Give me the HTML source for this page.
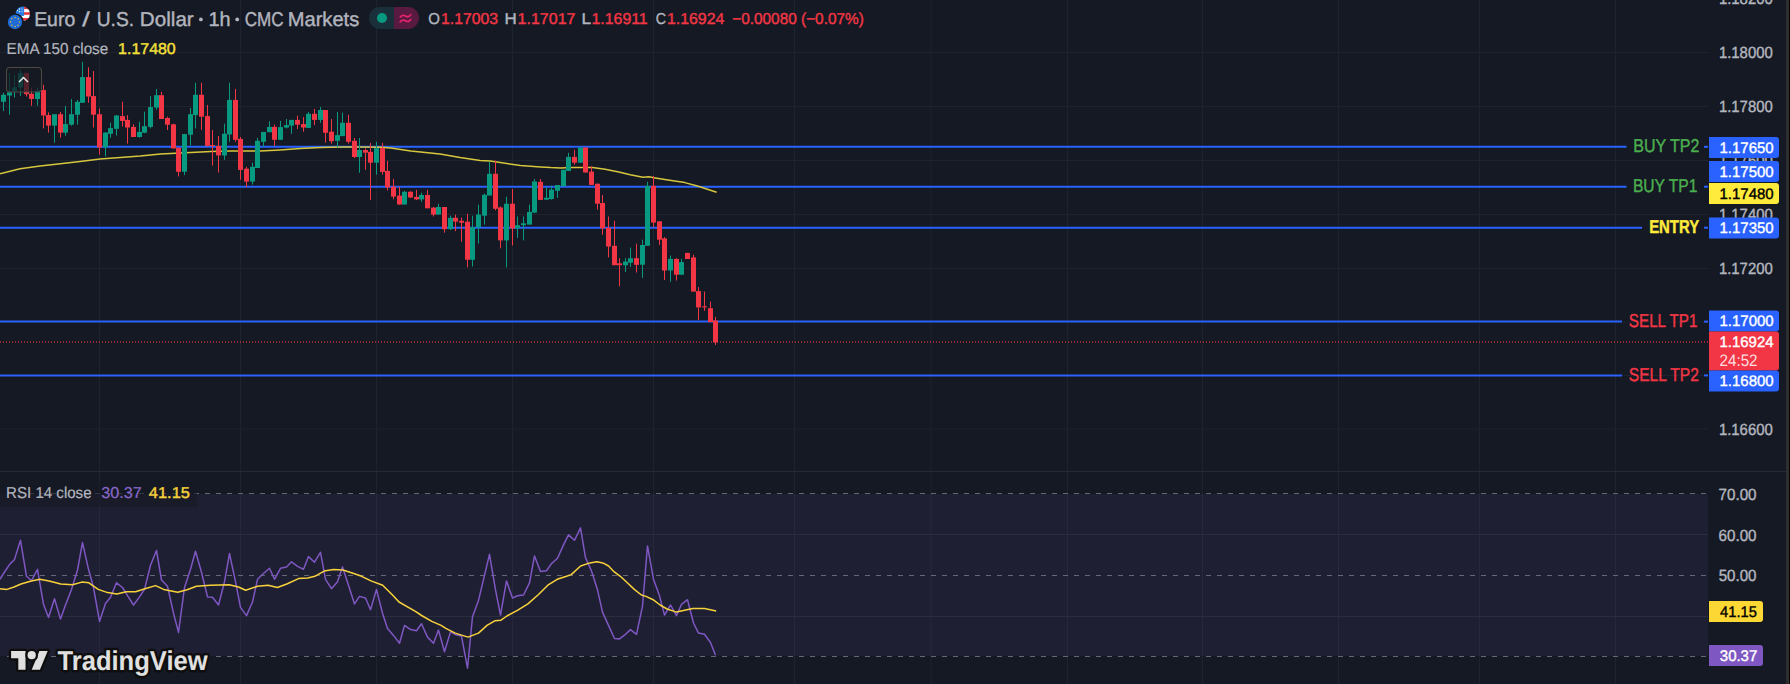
<!DOCTYPE html>
<html><head><meta charset="utf-8"><style>
html,body{margin:0;padding:0;background:#151923;width:1790px;height:684px;overflow:hidden}
svg{display:block;font-family:"Liberation Sans", sans-serif;text-rendering:geometricPrecision}
</style></head><body>
<svg width="1790" height="684" viewBox="0 0 1790 684">
<rect width="1790" height="684" fill="#151923"/>
<line x1="99.50" y1="0" x2="99.50" y2="684" stroke="#1f232e" stroke-width="1"/>
<line x1="240.50" y1="0" x2="240.50" y2="684" stroke="#1f232e" stroke-width="1"/>
<line x1="376.50" y1="0" x2="376.50" y2="684" stroke="#1f232e" stroke-width="1"/>
<line x1="512.50" y1="0" x2="512.50" y2="684" stroke="#1f232e" stroke-width="1"/>
<line x1="653.50" y1="0" x2="653.50" y2="684" stroke="#1f232e" stroke-width="1"/>
<line x1="794.50" y1="0" x2="794.50" y2="684" stroke="#1f232e" stroke-width="1"/>
<line x1="931.00" y1="0" x2="931.00" y2="684" stroke="#1f232e" stroke-width="1"/>
<line x1="1067.50" y1="0" x2="1067.50" y2="684" stroke="#1f232e" stroke-width="1"/>
<line x1="1202.50" y1="0" x2="1202.50" y2="684" stroke="#1f232e" stroke-width="1"/>
<line x1="1338.50" y1="0" x2="1338.50" y2="684" stroke="#1f232e" stroke-width="1"/>
<line x1="1479.50" y1="0" x2="1479.50" y2="684" stroke="#1f232e" stroke-width="1"/>
<line x1="1615.50" y1="0" x2="1615.50" y2="684" stroke="#1f232e" stroke-width="1"/>
<line x1="0" y1="-1.5" x2="1708" y2="-1.5" stroke="#1f232e" stroke-width="1"/>
<line x1="0" y1="52.5" x2="1708" y2="52.5" stroke="#1f232e" stroke-width="1"/>
<line x1="0" y1="106.5" x2="1708" y2="106.5" stroke="#1f232e" stroke-width="1"/>
<line x1="0" y1="160.5" x2="1708" y2="160.5" stroke="#1f232e" stroke-width="1"/>
<line x1="0" y1="214.5" x2="1708" y2="214.5" stroke="#1f232e" stroke-width="1"/>
<line x1="0" y1="268.5" x2="1708" y2="268.5" stroke="#1f232e" stroke-width="1"/>
<line x1="0" y1="322.0" x2="1708" y2="322.0" stroke="#1f232e" stroke-width="1"/>
<line x1="0" y1="375.5" x2="1708" y2="375.5" stroke="#1f232e" stroke-width="1"/>
<line x1="0" y1="429.0" x2="1708" y2="429.0" stroke="#1f232e" stroke-width="1"/>
<rect x="0" y="494" width="1708" height="162" fill="#7e57c2" fill-opacity="0.1"/>
<line x1="0" y1="534.5" x2="1708" y2="534.5" stroke="#2a2d3d" stroke-width="1"/>
<line x1="0" y1="616.5" x2="1708" y2="616.5" stroke="#2a2d3d" stroke-width="1"/>
<line x1="7" y1="493.5" x2="1708" y2="493.5" stroke="#787b86" stroke-width="1" stroke-dasharray="5 6" stroke-opacity="0.8"/>
<line x1="7" y1="575.5" x2="1708" y2="575.5" stroke="#787b86" stroke-width="1" stroke-dasharray="5 6" stroke-opacity="0.8"/>
<line x1="7" y1="656.5" x2="1708" y2="656.5" stroke="#787b86" stroke-width="1" stroke-dasharray="5 6" stroke-opacity="0.8"/>
<line x1="0" y1="471.5" x2="1786" y2="471.5" stroke="#262a35" stroke-width="1"/>
<line x1="0" y1="146.8" x2="1626.5" y2="146.8" stroke="#2962ff" stroke-width="2"/>
<line x1="1704" y1="146.8" x2="1708" y2="146.8" stroke="#2962ff" stroke-width="2"/>
<text x="1633.22" y="151.90" font-size="18.55" font-weight="normal" fill="#4caf50" textLength="66.21" lengthAdjust="spacingAndGlyphs" xml:space="preserve" stroke="#4caf50" stroke-width="0.4">BUY TP2</text>
<line x1="0" y1="186.7" x2="1626.5" y2="186.7" stroke="#2962ff" stroke-width="2"/>
<line x1="1704" y1="186.7" x2="1708" y2="186.7" stroke="#2962ff" stroke-width="2"/>
<text x="1632.95" y="191.90" font-size="18.55" font-weight="normal" fill="#4caf50" textLength="64.46" lengthAdjust="spacingAndGlyphs" xml:space="preserve" stroke="#4caf50" stroke-width="0.4">BUY TP1</text>
<line x1="0" y1="227.7" x2="1642" y2="227.7" stroke="#2962ff" stroke-width="2"/>
<line x1="1704" y1="227.7" x2="1708" y2="227.7" stroke="#2962ff" stroke-width="2"/>
<text x="1649.16" y="232.80" font-size="18.55" font-weight="bold" fill="#ffeb3b" textLength="49.97" lengthAdjust="spacingAndGlyphs" xml:space="preserve" stroke="#ffeb3b" stroke-width="0.4">ENTRY</text>
<line x1="0" y1="321.6" x2="1622" y2="321.6" stroke="#2962ff" stroke-width="2"/>
<line x1="1704" y1="321.6" x2="1708" y2="321.6" stroke="#2962ff" stroke-width="2"/>
<text x="1628.84" y="327.00" font-size="18.55" font-weight="normal" fill="#f23645" textLength="68.57" lengthAdjust="spacingAndGlyphs" xml:space="preserve" stroke="#f23645" stroke-width="0.4">SELL TP1</text>
<line x1="0" y1="375.4" x2="1622" y2="375.4" stroke="#2962ff" stroke-width="2"/>
<line x1="1704" y1="375.4" x2="1708" y2="375.4" stroke="#2962ff" stroke-width="2"/>
<text x="1628.82" y="380.80" font-size="18.55" font-weight="normal" fill="#f23645" textLength="70.10" lengthAdjust="spacingAndGlyphs" xml:space="preserve" stroke="#f23645" stroke-width="0.4">SELL TP2</text>
<polyline points="0.0,173.8 20.1,168.8 40.2,165.9 60.3,163.7 80.0,161.4 100.1,158.9 120.2,157.6 140.3,156.1 160.5,154.1 175.5,153.3 190.6,152.6 210.7,151.6 230.8,150.9 251.0,150.9 260.0,151.0 280.1,149.9 300.2,148.6 320.3,147.6 340.5,146.9 360.6,147.1 380.7,147.3 390.7,148.1 410.8,151.1 440.0,154.1 460.1,157.6 480.2,160.6 490.3,161.1 500.3,162.6 520.5,165.6 530.5,166.3 540.6,166.9 550.6,167.6 560.7,167.9 570.7,167.6 580.8,167.4 592.6,167.4 605.1,169.2 617.7,171.7 630.3,174.7 642.9,177.2 648.7,176.8 655.4,178.0 668.0,180.1 684.8,182.6 697.4,186.0 716.6,192.3" fill="none" stroke="#d6c63e" stroke-width="1.5" stroke-linejoin="round"/>
<rect x="3" y="92.7" width="1" height="18.3" fill="#089981"/>
<rect x="1" y="94.8" width="5" height="7.0" fill="#089981"/>
<rect x="9" y="72.9" width="1" height="41.8" fill="#089981"/>
<rect x="7" y="92.3" width="5" height="3.2" fill="#089981"/>
<rect x="14" y="74.8" width="1" height="22.8" fill="#089981"/>
<rect x="12" y="87.2" width="5" height="4.2" fill="#089981"/>
<rect x="20" y="69.9" width="1" height="25.9" fill="#089981"/>
<rect x="18" y="72.9" width="5" height="14.6" fill="#089981"/>
<rect x="26" y="72.9" width="1" height="23.6" fill="#f23645"/>
<rect x="24" y="72.9" width="5" height="21.3" fill="#f23645"/>
<rect x="31" y="87.6" width="1" height="18.1" fill="#f23645"/>
<rect x="29" y="93.8" width="5" height="5.1" fill="#f23645"/>
<rect x="37" y="87.2" width="1" height="18.4" fill="#089981"/>
<rect x="35" y="90.4" width="5" height="8.6" fill="#089981"/>
<rect x="43" y="84.7" width="1" height="43.7" fill="#f23645"/>
<rect x="41" y="90.0" width="5" height="25.5" fill="#f23645"/>
<rect x="48" y="112.3" width="1" height="20.3" fill="#f23645"/>
<rect x="46" y="115.1" width="5" height="10.5" fill="#f23645"/>
<rect x="54" y="114.2" width="1" height="28.5" fill="#089981"/>
<rect x="52" y="114.2" width="5" height="11.4" fill="#089981"/>
<rect x="60" y="111.9" width="1" height="25.7" fill="#f23645"/>
<rect x="58" y="114.2" width="5" height="18.4" fill="#f23645"/>
<rect x="65" y="106.0" width="1" height="29.7" fill="#089981"/>
<rect x="63" y="124.1" width="5" height="8.6" fill="#089981"/>
<rect x="71" y="99.0" width="1" height="26.6" fill="#089981"/>
<rect x="69" y="114.2" width="5" height="10.5" fill="#089981"/>
<rect x="77" y="99.9" width="1" height="24.7" fill="#089981"/>
<rect x="75" y="101.8" width="5" height="12.9" fill="#089981"/>
<rect x="82" y="61.9" width="1" height="40.9" fill="#089981"/>
<rect x="80" y="77.1" width="5" height="25.7" fill="#089981"/>
<rect x="88" y="67.2" width="1" height="35.6" fill="#f23645"/>
<rect x="86" y="77.1" width="5" height="19.4" fill="#f23645"/>
<rect x="93" y="71.0" width="1" height="56.5" fill="#f23645"/>
<rect x="91" y="96.1" width="5" height="18.6" fill="#f23645"/>
<rect x="99" y="108.5" width="1" height="46.0" fill="#f23645"/>
<rect x="97" y="114.2" width="5" height="33.3" fill="#f23645"/>
<rect x="105" y="132.2" width="1" height="24.3" fill="#089981"/>
<rect x="103" y="132.6" width="5" height="14.8" fill="#089981"/>
<rect x="110" y="122.7" width="1" height="15.2" fill="#089981"/>
<rect x="108" y="128.1" width="5" height="5.7" fill="#089981"/>
<rect x="116" y="115.1" width="1" height="20.5" fill="#089981"/>
<rect x="114" y="115.5" width="5" height="13.3" fill="#089981"/>
<rect x="122" y="101.8" width="1" height="24.7" fill="#f23645"/>
<rect x="120" y="116.1" width="5" height="4.8" fill="#f23645"/>
<rect x="127" y="115.1" width="1" height="28.5" fill="#f23645"/>
<rect x="125" y="119.9" width="5" height="7.6" fill="#f23645"/>
<rect x="133" y="124.3" width="1" height="12.7" fill="#f23645"/>
<rect x="131" y="126.9" width="5" height="10.1" fill="#f23645"/>
<rect x="139" y="121.8" width="1" height="15.8" fill="#089981"/>
<rect x="137" y="131.9" width="5" height="5.1" fill="#089981"/>
<rect x="144" y="111.7" width="1" height="21.5" fill="#089981"/>
<rect x="142" y="126.2" width="5" height="6.5" fill="#089981"/>
<rect x="150" y="96.1" width="1" height="32.3" fill="#089981"/>
<rect x="148" y="107.1" width="5" height="19.8" fill="#089981"/>
<rect x="156" y="88.9" width="1" height="20.9" fill="#089981"/>
<rect x="154" y="95.2" width="5" height="12.4" fill="#089981"/>
<rect x="161" y="91.9" width="1" height="27.0" fill="#f23645"/>
<rect x="159" y="95.2" width="5" height="23.8" fill="#f23645"/>
<rect x="167" y="116.7" width="1" height="13.3" fill="#f23645"/>
<rect x="165" y="118.0" width="5" height="6.7" fill="#f23645"/>
<rect x="173" y="123.7" width="1" height="24.7" fill="#f23645"/>
<rect x="171" y="124.3" width="5" height="24.1" fill="#f23645"/>
<rect x="178" y="147.5" width="1" height="28.9" fill="#f23645"/>
<rect x="176" y="147.8" width="5" height="24.0" fill="#f23645"/>
<rect x="184" y="133.8" width="1" height="41.3" fill="#089981"/>
<rect x="182" y="134.1" width="5" height="37.6" fill="#089981"/>
<rect x="190" y="107.9" width="1" height="37.6" fill="#089981"/>
<rect x="188" y="114.2" width="5" height="20.5" fill="#089981"/>
<rect x="195" y="82.8" width="1" height="45.6" fill="#089981"/>
<rect x="193" y="94.8" width="5" height="20.3" fill="#089981"/>
<rect x="201" y="82.8" width="1" height="47.1" fill="#f23645"/>
<rect x="199" y="94.8" width="5" height="21.9" fill="#f23645"/>
<rect x="207" y="105.1" width="1" height="41.4" fill="#f23645"/>
<rect x="205" y="116.1" width="5" height="29.8" fill="#f23645"/>
<rect x="212" y="130.0" width="1" height="35.6" fill="#f23645"/>
<rect x="210" y="145.0" width="5" height="1.0" fill="#f23645"/>
<rect x="218" y="136.0" width="1" height="36.5" fill="#f23645"/>
<rect x="216" y="145.9" width="5" height="9.5" fill="#f23645"/>
<rect x="224" y="123.7" width="1" height="36.1" fill="#089981"/>
<rect x="222" y="133.8" width="5" height="21.7" fill="#089981"/>
<rect x="229" y="82.8" width="1" height="58.9" fill="#089981"/>
<rect x="227" y="99.9" width="5" height="34.6" fill="#089981"/>
<rect x="235" y="88.9" width="1" height="52.9" fill="#f23645"/>
<rect x="233" y="99.9" width="5" height="39.9" fill="#f23645"/>
<rect x="240" y="137.0" width="1" height="42.8" fill="#f23645"/>
<rect x="238" y="138.9" width="5" height="31.0" fill="#f23645"/>
<rect x="246" y="166.8" width="1" height="20.5" fill="#f23645"/>
<rect x="244" y="168.7" width="5" height="12.9" fill="#f23645"/>
<rect x="252" y="162.7" width="1" height="21.9" fill="#089981"/>
<rect x="250" y="166.8" width="5" height="14.8" fill="#089981"/>
<rect x="257" y="137.9" width="1" height="30.0" fill="#089981"/>
<rect x="255" y="140.8" width="5" height="27.2" fill="#089981"/>
<rect x="263" y="131.9" width="1" height="15.2" fill="#089981"/>
<rect x="261" y="131.9" width="5" height="9.9" fill="#089981"/>
<rect x="269" y="121.2" width="1" height="11.0" fill="#089981"/>
<rect x="267" y="126.9" width="5" height="5.3" fill="#089981"/>
<rect x="274" y="124.6" width="1" height="21.3" fill="#f23645"/>
<rect x="272" y="126.9" width="5" height="12.9" fill="#f23645"/>
<rect x="280" y="120.9" width="1" height="19.0" fill="#089981"/>
<rect x="278" y="127.1" width="5" height="12.7" fill="#089981"/>
<rect x="286" y="119.0" width="1" height="9.5" fill="#089981"/>
<rect x="284" y="125.1" width="5" height="2.5" fill="#089981"/>
<rect x="291" y="119.9" width="1" height="13.9" fill="#089981"/>
<rect x="289" y="119.9" width="5" height="5.7" fill="#089981"/>
<rect x="297" y="115.7" width="1" height="13.3" fill="#f23645"/>
<rect x="295" y="119.9" width="5" height="4.8" fill="#f23645"/>
<rect x="303" y="117.1" width="1" height="14.6" fill="#f23645"/>
<rect x="301" y="124.1" width="5" height="3.4" fill="#f23645"/>
<rect x="308" y="111.9" width="1" height="16.0" fill="#089981"/>
<rect x="306" y="113.8" width="5" height="14.1" fill="#089981"/>
<rect x="314" y="108.9" width="1" height="16.2" fill="#f23645"/>
<rect x="312" y="113.8" width="5" height="6.1" fill="#f23645"/>
<rect x="320" y="107.0" width="1" height="15.8" fill="#089981"/>
<rect x="318" y="110.0" width="5" height="9.9" fill="#089981"/>
<rect x="325" y="110.0" width="1" height="32.7" fill="#f23645"/>
<rect x="323" y="110.0" width="5" height="22.8" fill="#f23645"/>
<rect x="331" y="119.0" width="1" height="24.7" fill="#f23645"/>
<rect x="329" y="131.7" width="5" height="9.5" fill="#f23645"/>
<rect x="337" y="111.9" width="1" height="35.6" fill="#089981"/>
<rect x="335" y="135.1" width="5" height="5.7" fill="#089981"/>
<rect x="342" y="112.7" width="1" height="23.4" fill="#089981"/>
<rect x="340" y="122.8" width="5" height="13.3" fill="#089981"/>
<rect x="348" y="114.8" width="1" height="28.9" fill="#f23645"/>
<rect x="346" y="122.8" width="5" height="19.0" fill="#f23645"/>
<rect x="354" y="138.0" width="1" height="20.0" fill="#f23645"/>
<rect x="352" y="140.8" width="5" height="16.2" fill="#f23645"/>
<rect x="359" y="138.0" width="1" height="34.8" fill="#089981"/>
<rect x="357" y="150.0" width="5" height="7.0" fill="#089981"/>
<rect x="365" y="148.4" width="1" height="21.3" fill="#f23645"/>
<rect x="363" y="150.0" width="5" height="2.7" fill="#f23645"/>
<rect x="370" y="142.9" width="1" height="57.0" fill="#f23645"/>
<rect x="368" y="151.9" width="5" height="10.8" fill="#f23645"/>
<rect x="376" y="141.8" width="1" height="32.9" fill="#089981"/>
<rect x="374" y="148.1" width="5" height="14.6" fill="#089981"/>
<rect x="382" y="142.9" width="1" height="31.7" fill="#f23645"/>
<rect x="380" y="148.1" width="5" height="23.8" fill="#f23645"/>
<rect x="387" y="160.8" width="1" height="29.7" fill="#f23645"/>
<rect x="385" y="170.9" width="5" height="16.5" fill="#f23645"/>
<rect x="393" y="179.0" width="1" height="20.3" fill="#f23645"/>
<rect x="391" y="186.7" width="5" height="9.9" fill="#f23645"/>
<rect x="399" y="186.7" width="1" height="17.9" fill="#f23645"/>
<rect x="397" y="195.6" width="5" height="8.9" fill="#f23645"/>
<rect x="404" y="190.8" width="1" height="13.7" fill="#089981"/>
<rect x="402" y="191.8" width="5" height="12.7" fill="#089981"/>
<rect x="410" y="191.2" width="1" height="6.8" fill="#f23645"/>
<rect x="408" y="191.8" width="5" height="5.7" fill="#f23645"/>
<rect x="416" y="189.9" width="1" height="10.1" fill="#f23645"/>
<rect x="414" y="196.9" width="5" height="2.5" fill="#f23645"/>
<rect x="421" y="192.7" width="1" height="9.1" fill="#089981"/>
<rect x="419" y="195.0" width="5" height="4.4" fill="#089981"/>
<rect x="427" y="189.9" width="1" height="18.4" fill="#f23645"/>
<rect x="425" y="195.0" width="5" height="13.3" fill="#f23645"/>
<rect x="433" y="207.0" width="1" height="9.5" fill="#f23645"/>
<rect x="431" y="207.6" width="5" height="7.0" fill="#f23645"/>
<rect x="438" y="203.8" width="1" height="10.8" fill="#089981"/>
<rect x="436" y="207.0" width="5" height="7.6" fill="#089981"/>
<rect x="444" y="207.0" width="1" height="25.7" fill="#f23645"/>
<rect x="442" y="207.0" width="5" height="22.2" fill="#f23645"/>
<rect x="450" y="215.6" width="1" height="14.3" fill="#089981"/>
<rect x="448" y="217.8" width="5" height="11.4" fill="#089981"/>
<rect x="455" y="214.6" width="1" height="16.5" fill="#f23645"/>
<rect x="453" y="217.8" width="5" height="3.8" fill="#f23645"/>
<rect x="461" y="217.6" width="1" height="24.1" fill="#f23645"/>
<rect x="459" y="220.8" width="5" height="1.9" fill="#f23645"/>
<rect x="467" y="213.8" width="1" height="53.6" fill="#f23645"/>
<rect x="465" y="221.7" width="5" height="38.0" fill="#f23645"/>
<rect x="472" y="215.7" width="1" height="50.8" fill="#089981"/>
<rect x="470" y="227.1" width="5" height="32.7" fill="#089981"/>
<rect x="478" y="204.6" width="1" height="39.0" fill="#089981"/>
<rect x="476" y="214.5" width="5" height="12.9" fill="#089981"/>
<rect x="484" y="193.6" width="1" height="31.0" fill="#089981"/>
<rect x="482" y="194.8" width="5" height="20.9" fill="#089981"/>
<rect x="489" y="161.9" width="1" height="33.7" fill="#089981"/>
<rect x="487" y="173.8" width="5" height="21.7" fill="#089981"/>
<rect x="495" y="160.5" width="1" height="49.8" fill="#f23645"/>
<rect x="493" y="173.8" width="5" height="35.0" fill="#f23645"/>
<rect x="500" y="206.5" width="1" height="41.8" fill="#f23645"/>
<rect x="498" y="207.5" width="5" height="32.9" fill="#f23645"/>
<rect x="506" y="196.7" width="1" height="70.7" fill="#089981"/>
<rect x="504" y="203.7" width="5" height="36.7" fill="#089981"/>
<rect x="512" y="189.0" width="1" height="56.5" fill="#f23645"/>
<rect x="510" y="203.7" width="5" height="24.7" fill="#f23645"/>
<rect x="517" y="216.4" width="1" height="21.5" fill="#089981"/>
<rect x="515" y="225.2" width="5" height="3.2" fill="#089981"/>
<rect x="523" y="216.4" width="1" height="24.0" fill="#089981"/>
<rect x="521" y="223.3" width="5" height="1.9" fill="#089981"/>
<rect x="529" y="204.6" width="1" height="20.0" fill="#089981"/>
<rect x="527" y="211.9" width="5" height="12.7" fill="#089981"/>
<rect x="534" y="179.0" width="1" height="34.2" fill="#089981"/>
<rect x="532" y="181.4" width="5" height="31.2" fill="#089981"/>
<rect x="540" y="179.0" width="1" height="20.9" fill="#f23645"/>
<rect x="538" y="181.8" width="5" height="18.1" fill="#f23645"/>
<rect x="546" y="187.3" width="1" height="12.4" fill="#089981"/>
<rect x="544" y="197.8" width="5" height="1.9" fill="#089981"/>
<rect x="551" y="185.7" width="1" height="14.0" fill="#089981"/>
<rect x="549" y="189.6" width="5" height="9.4" fill="#089981"/>
<rect x="557" y="185.0" width="1" height="12.9" fill="#089981"/>
<rect x="555" y="185.0" width="5" height="5.8" fill="#089981"/>
<rect x="563" y="169.8" width="1" height="16.8" fill="#089981"/>
<rect x="561" y="169.8" width="5" height="16.4" fill="#089981"/>
<rect x="568" y="152.9" width="1" height="18.0" fill="#089981"/>
<rect x="566" y="156.9" width="5" height="14.0" fill="#089981"/>
<rect x="574" y="149.9" width="1" height="14.7" fill="#f23645"/>
<rect x="572" y="156.9" width="5" height="5.8" fill="#f23645"/>
<rect x="580" y="147.5" width="1" height="15.2" fill="#089981"/>
<rect x="578" y="147.5" width="5" height="15.2" fill="#089981"/>
<rect x="585" y="147.5" width="1" height="25.0" fill="#f23645"/>
<rect x="583" y="147.5" width="5" height="25.0" fill="#f23645"/>
<rect x="591" y="166.3" width="1" height="18.7" fill="#f23645"/>
<rect x="589" y="171.6" width="5" height="13.3" fill="#f23645"/>
<rect x="597" y="183.3" width="1" height="26.2" fill="#f23645"/>
<rect x="595" y="183.8" width="5" height="19.9" fill="#f23645"/>
<rect x="602" y="195.0" width="1" height="39.8" fill="#f23645"/>
<rect x="600" y="203.0" width="5" height="25.3" fill="#f23645"/>
<rect x="608" y="216.5" width="1" height="40.9" fill="#f23645"/>
<rect x="606" y="227.8" width="5" height="18.7" fill="#f23645"/>
<rect x="614" y="220.8" width="1" height="44.4" fill="#f23645"/>
<rect x="612" y="245.8" width="5" height="19.4" fill="#f23645"/>
<rect x="619" y="258.2" width="1" height="28.1" fill="#f23645"/>
<rect x="617" y="263.3" width="5" height="1.9" fill="#f23645"/>
<rect x="625" y="258.2" width="1" height="13.9" fill="#089981"/>
<rect x="623" y="261.6" width="5" height="3.7" fill="#089981"/>
<rect x="630" y="247.6" width="1" height="19.2" fill="#089981"/>
<rect x="628" y="258.2" width="5" height="4.5" fill="#089981"/>
<rect x="636" y="243.7" width="1" height="28.9" fill="#f23645"/>
<rect x="634" y="258.2" width="5" height="6.6" fill="#f23645"/>
<rect x="642" y="239.7" width="1" height="38.2" fill="#089981"/>
<rect x="640" y="245.0" width="5" height="19.7" fill="#089981"/>
<rect x="647" y="181.8" width="1" height="63.9" fill="#089981"/>
<rect x="645" y="185.8" width="5" height="60.0" fill="#089981"/>
<rect x="653" y="175.8" width="1" height="51.6" fill="#f23645"/>
<rect x="651" y="185.8" width="5" height="36.8" fill="#f23645"/>
<rect x="659" y="221.3" width="1" height="23.7" fill="#f23645"/>
<rect x="657" y="221.3" width="5" height="18.4" fill="#f23645"/>
<rect x="664" y="237.1" width="1" height="42.9" fill="#f23645"/>
<rect x="662" y="238.4" width="5" height="32.1" fill="#f23645"/>
<rect x="670" y="255.5" width="1" height="26.3" fill="#089981"/>
<rect x="668" y="258.9" width="5" height="11.6" fill="#089981"/>
<rect x="676" y="258.2" width="1" height="22.4" fill="#f23645"/>
<rect x="674" y="258.9" width="5" height="15.8" fill="#f23645"/>
<rect x="681" y="258.9" width="1" height="15.8" fill="#089981"/>
<rect x="679" y="262.1" width="5" height="12.6" fill="#089981"/>
<rect x="687" y="252.9" width="1" height="6.1" fill="#f23645"/>
<rect x="685" y="252.9" width="5" height="6.1" fill="#f23645"/>
<rect x="693" y="254.7" width="1" height="36.8" fill="#f23645"/>
<rect x="691" y="257.4" width="5" height="34.2" fill="#f23645"/>
<rect x="698" y="287.1" width="1" height="32.9" fill="#f23645"/>
<rect x="696" y="291.1" width="5" height="16.3" fill="#f23645"/>
<rect x="704" y="291.6" width="1" height="19.2" fill="#f23645"/>
<rect x="702" y="306.3" width="5" height="1.1" fill="#f23645"/>
<rect x="710" y="301.6" width="1" height="20.5" fill="#f23645"/>
<rect x="708" y="308.2" width="5" height="13.9" fill="#f23645"/>
<rect x="715" y="316.8" width="1" height="28.2" fill="#f23645"/>
<rect x="713" y="320.5" width="5" height="21.8" fill="#f23645"/>
<line x1="0" y1="342" x2="1708" y2="342" stroke="#f23645" stroke-width="2" stroke-dasharray="1 2" opacity="0.6"/>
<text x="1718.91" y="3.60" font-size="16.23" font-weight="normal" fill="#b2b5be" textLength="53.86" lengthAdjust="spacingAndGlyphs" xml:space="preserve" stroke="#b2b5be" stroke-width="0.4">1.18200</text>
<text x="1718.91" y="58.20" font-size="16.23" font-weight="normal" fill="#b2b5be" textLength="53.86" lengthAdjust="spacingAndGlyphs" xml:space="preserve" stroke="#b2b5be" stroke-width="0.4">1.18000</text>
<text x="1718.91" y="112.30" font-size="16.23" font-weight="normal" fill="#b2b5be" textLength="53.86" lengthAdjust="spacingAndGlyphs" xml:space="preserve" stroke="#b2b5be" stroke-width="0.4">1.17800</text>
<text x="1718.91" y="166.30" font-size="16.23" font-weight="normal" fill="#b2b5be" textLength="53.86" lengthAdjust="spacingAndGlyphs" xml:space="preserve" stroke="#b2b5be" stroke-width="0.4">1.17600</text>
<text x="1718.91" y="220.10" font-size="16.23" font-weight="normal" fill="#b2b5be" textLength="53.86" lengthAdjust="spacingAndGlyphs" xml:space="preserve" stroke="#b2b5be" stroke-width="0.4">1.17400</text>
<text x="1718.91" y="274.00" font-size="16.23" font-weight="normal" fill="#b2b5be" textLength="53.86" lengthAdjust="spacingAndGlyphs" xml:space="preserve" stroke="#b2b5be" stroke-width="0.4">1.17200</text>
<text x="1718.91" y="434.80" font-size="16.23" font-weight="normal" fill="#b2b5be" textLength="53.86" lengthAdjust="spacingAndGlyphs" xml:space="preserve" stroke="#b2b5be" stroke-width="0.4">1.16600</text>
<path d="M1709,137 h67 a3,3 0 0 1 3,3 v15 a3,3 0 0 1 -3,3 h-67 z" fill="#2962ff"/>
<text x="1719.50" y="152.80" font-size="15.22" font-weight="normal" fill="#ffffff" textLength="54.17" lengthAdjust="spacingAndGlyphs" xml:space="preserve" stroke="#ffffff" stroke-width="0.4">1.17650</text>
<path d="M1709,161 h67 a3,3 0 0 1 3,3 v15 a3,3 0 0 1 -3,3 h-67 z" fill="#2962ff"/>
<text x="1719.50" y="176.80" font-size="15.22" font-weight="normal" fill="#ffffff" textLength="54.17" lengthAdjust="spacingAndGlyphs" xml:space="preserve" stroke="#ffffff" stroke-width="0.4">1.17500</text>
<path d="M1709,183 h67 a3,3 0 0 1 3,3 v15 a3,3 0 0 1 -3,3 h-67 z" fill="#ffeb3b"/>
<text x="1719.50" y="198.80" font-size="15.22" font-weight="normal" fill="#000000" textLength="54.17" lengthAdjust="spacingAndGlyphs" xml:space="preserve" stroke="#000000" stroke-width="0.4">1.17480</text>
<path d="M1709,217.5 h67 a3,3 0 0 1 3,3 v15 a3,3 0 0 1 -3,3 h-67 z" fill="#2962ff"/>
<text x="1719.50" y="233.30" font-size="15.22" font-weight="normal" fill="#ffffff" textLength="54.17" lengthAdjust="spacingAndGlyphs" xml:space="preserve" stroke="#ffffff" stroke-width="0.4">1.17350</text>
<path d="M1709,310.5 h67 a3,3 0 0 1 3,3 v15 a3,3 0 0 1 -3,3 h-67 z" fill="#2962ff"/>
<text x="1719.50" y="326.30" font-size="15.22" font-weight="normal" fill="#ffffff" textLength="54.17" lengthAdjust="spacingAndGlyphs" xml:space="preserve" stroke="#ffffff" stroke-width="0.4">1.17000</text>
<path d="M1709,331.5 h67 a3,3 0 0 1 3,3 v33 a3,3 0 0 1 -3,3 h-67 z" fill="#f23645"/>
<text x="1719.50" y="347.30" font-size="15.22" font-weight="normal" fill="#ffffff" textLength="54.02" lengthAdjust="spacingAndGlyphs" xml:space="preserve" stroke="#ffffff" stroke-width="0.4">1.16924</text>
<path d="M1709,370.5 h67 a3,3 0 0 1 3,3 v15 a3,3 0 0 1 -3,3 h-67 z" fill="#2962ff"/>
<text x="1719.50" y="386.30" font-size="15.22" font-weight="normal" fill="#ffffff" textLength="54.17" lengthAdjust="spacingAndGlyphs" xml:space="preserve" stroke="#ffffff" stroke-width="0.4">1.16800</text>
<text x="1719.44" y="365.60" font-size="16.67" font-weight="normal" fill="#ffffff" textLength="38.16" lengthAdjust="spacingAndGlyphs" xml:space="preserve" fill-opacity="0.85">24:52</text>
<text x="1718.54" y="499.50" font-size="16.23" font-weight="normal" fill="#b2b5be" textLength="38.00" lengthAdjust="spacingAndGlyphs" xml:space="preserve" stroke="#b2b5be" stroke-width="0.4">70.00</text>
<text x="1718.54" y="540.50" font-size="16.23" font-weight="normal" fill="#b2b5be" textLength="38.00" lengthAdjust="spacingAndGlyphs" xml:space="preserve" stroke="#b2b5be" stroke-width="0.4">60.00</text>
<text x="1718.70" y="581.20" font-size="16.23" font-weight="normal" fill="#b2b5be" textLength="37.85" lengthAdjust="spacingAndGlyphs" xml:space="preserve" stroke="#b2b5be" stroke-width="0.4">50.00</text>
<path d="M1709,601 h51 a3,3 0 0 1 3,3 v15 a3,3 0 0 1 -3,3 h-51 z" fill="#fdd835"/>
<text x="1720.11" y="616.90" font-size="15.36" font-weight="normal" fill="#000000" textLength="36.82" lengthAdjust="spacingAndGlyphs" xml:space="preserve" stroke="#000000" stroke-width="0.4">41.15</text>
<path d="M1709,645 h51 a3,3 0 0 1 3,3 v15 a3,3 0 0 1 -3,3 h-51 z" fill="#7e57c2"/>
<text x="1719.80" y="661.00" font-size="15.36" font-weight="normal" fill="#ffffff" textLength="37.49" lengthAdjust="spacingAndGlyphs" xml:space="preserve" stroke="#ffffff" stroke-width="0.4">30.37</text>
<polyline points="0,579.3 3.5,573.5 9.5,564.6 14.5,559.4 20.5,540.3 26.5,576.3 31.5,580.5 37.5,569.3 43.5,604.3 48.5,617.4 54.5,598.7 60.5,619.1 65.5,605.0 71.5,589.4 77.5,570.0 82.5,542.6 88.5,569.3 93.5,587.5 99.5,621.4 105.5,603.4 110.5,597.3 116.5,582.8 122.5,587.5 127.5,595.7 133.5,605.0 139.5,596.9 144.5,589.4 150.5,565.3 156.5,550.5 161.5,580.0 167.5,586.3 173.5,613.2 178.5,632.4 184.5,587.5 190.5,569.3 195.5,551.2 201.5,572.3 207.5,596.9 212.5,597.3 218.5,605.0 224.5,581.7 229.5,553.6 235.5,581.7 240.5,607.4 246.5,615.6 252.5,602.0 257.5,579.3 263.5,573.5 269.5,568.3 274.5,579.3 280.5,568.3 286.5,566.9 291.5,561.8 297.5,566.4 303.5,569.3 308.5,556.6 314.5,562.2 320.5,552.4 325.5,579.3 331.5,588.7 337.5,581.7 342.5,566.9 348.5,585.2 354.5,603.9 359.5,596.4 365.5,598.0 370.5,609.7 376.5,589.4 382.5,613.2 387.5,628.4 393.5,635.4 399.5,643.2 404.5,625.4 410.5,629.6 416.5,630.8 421.5,623.7 427.5,637.1 433.5,643.2 438.5,630.1 444.5,651.8 450.5,631.9 455.5,634.7 461.5,636.1 467.5,668.2 472.5,616.7 478.5,600.4 484.5,575.3 489.5,554.3 495.5,589.8 500.5,615.1 506.5,580.9 512.5,598.0 517.5,595.7 523.5,595.0 529.5,582.8 534.5,555.9 540.5,571.6 546.5,570.7 551.5,563.6 557.5,558.3 563.5,544.9 568.5,534.9 574.5,540.3 580.5,527.9 585.5,557.6 591.5,571.1 597.5,589.8 602.5,612.1 608.5,625.4 614.5,638.5 619.5,638.9 625.5,634.3 630.5,629.6 636.5,634.3 642.5,606.2 647.5,545.9 653.5,579.3 659.5,595.7 664.5,615.1 670.5,605.0 676.5,615.6 681.5,604.3 687.5,599.7 693.5,623.0 698.5,633.1 704.5,634.3 710.5,642.5 715.5,655.3" fill="none" stroke="#7e57c2" stroke-width="1.5" stroke-linejoin="round"/>
<polyline points="0.0,588.7 7.0,589.4 14.0,587.0 21.0,584.0 30.4,581.2 39.8,579.3 49.1,580.9 60.8,584.0 72.5,584.7 81.9,582.1 88.9,582.8 98.2,589.4 107.6,592.6 116.9,594.0 126.3,591.7 135.6,591.7 145.0,588.7 155.5,585.6 163.7,589.4 177.7,592.2 187.1,589.8 196.4,586.3 210.5,585.2 229.2,584.7 238.5,587.0 245.6,590.3 257.5,586.3 268.1,585.2 277.4,587.5 286.8,584.0 298.5,578.6 307.8,578.1 314.8,576.3 324.2,571.1 333.5,569.5 342.9,570.0 352.3,573.0 361.6,576.3 371.0,580.9 382.7,585.2 392.0,594.5 399.0,602.0 415.4,611.4 422.4,616.0 431.8,621.4 441.1,625.4 445.8,628.4 455.2,633.1 468.0,637.1 478.5,633.1 487.0,625.4 495.2,620.7 501.0,620.2 506.9,616.0 517.4,610.4 527.9,603.9 538.5,594.5 547.8,585.2 557.2,579.3 566.5,576.3 571.2,574.6 580.6,566.0 589.9,562.9 596.9,561.8 602.8,562.9 608.6,566.0 613.3,571.1 620.3,576.3 627.3,582.8 634.3,589.4 641.4,595.0 646.0,596.4 653.1,599.7 660.1,605.0 667.1,609.0 676.4,612.1 683.5,610.4 692.8,608.5 704.5,608.5 716.2,610.9" fill="none" stroke="#f7d23b" stroke-width="1.5" stroke-linejoin="round"/>
<rect x="1786" y="0" width="3" height="684" fill="#2f2f30"/>
<rect x="1789" y="0" width="1" height="684" fill="#060606"/>
<text x="34.14" y="26.00" font-size="20.00" font-weight="normal" fill="#b2b5be" textLength="41.08" lengthAdjust="spacingAndGlyphs" xml:space="preserve" stroke="#b2b5be" stroke-width="0.4">Euro</text>
<text x="82.30" y="26.00" font-size="20.00" font-weight="normal" fill="#b2b5be" textLength="7.45" lengthAdjust="spacingAndGlyphs" xml:space="preserve" stroke="#b2b5be" stroke-width="0.4">/</text>
<text x="96.76" y="26.00" font-size="20.00" font-weight="normal" fill="#b2b5be" textLength="37.36" lengthAdjust="spacingAndGlyphs" xml:space="preserve" stroke="#b2b5be" stroke-width="0.4">U.S.</text>
<text x="139.85" y="26.00" font-size="20.00" font-weight="normal" fill="#b2b5be" textLength="53.90" lengthAdjust="spacingAndGlyphs" xml:space="preserve" stroke="#b2b5be" stroke-width="0.4">Dollar</text>
<text x="208.41" y="26.00" font-size="20.00" font-weight="normal" fill="#b2b5be" textLength="22.13" lengthAdjust="spacingAndGlyphs" xml:space="preserve" stroke="#b2b5be" stroke-width="0.4">1h</text>
<text x="244.75" y="26.00" font-size="20.00" font-weight="normal" fill="#b2b5be" textLength="38.86" lengthAdjust="spacingAndGlyphs" xml:space="preserve" stroke="#b2b5be" stroke-width="0.4">CMC</text>
<text x="287.69" y="26.00" font-size="20.00" font-weight="normal" fill="#b2b5be" textLength="71.54" lengthAdjust="spacingAndGlyphs" xml:space="preserve" stroke="#b2b5be" stroke-width="0.4">Markets</text>
<circle cx="200.9" cy="19.4" r="1.9" fill="#b2b5be"/>
<circle cx="237.2" cy="19.4" r="1.9" fill="#b2b5be"/>
<text x="6.58" y="54.00" font-size="15.80" font-weight="normal" fill="#b2b5be" textLength="101.64" lengthAdjust="spacingAndGlyphs" xml:space="preserve" stroke="#b2b5be" stroke-width="0.2">EMA 150 close</text>
<text x="118.13" y="54.00" font-size="15.80" font-weight="normal" fill="#f5e13a" textLength="57.59" lengthAdjust="spacingAndGlyphs" xml:space="preserve" stroke="#f5e13a" stroke-width="0.4">1.17480</text>
<rect x="0" y="484" width="197" height="23" fill="#151923" fill-opacity="0.6"/>
<text x="6.09" y="497.90" font-size="15.80" font-weight="normal" fill="#b2b5be" textLength="85.45" lengthAdjust="spacingAndGlyphs" xml:space="preserve" stroke="#b2b5be" stroke-width="0.2">RSI 14 close</text>
<text x="101.35" y="497.90" font-size="15.80" font-weight="normal" fill="#8a68cc" textLength="40.50" lengthAdjust="spacingAndGlyphs" xml:space="preserve" stroke="#8a68cc" stroke-width="0.2">30.37</text>
<text x="148.87" y="497.90" font-size="15.80" font-weight="normal" fill="#f7d23b" textLength="41.02" lengthAdjust="spacingAndGlyphs" xml:space="preserve" stroke="#f7d23b" stroke-width="0.4">41.15</text>
<text x="428.25" y="23.90" font-size="15.80" font-weight="normal" fill="#b2b5be" textLength="11.67" lengthAdjust="spacingAndGlyphs" xml:space="preserve" stroke="#b2b5be" stroke-width="0.4">O</text>
<text x="441.04" y="23.90" font-size="15.80" font-weight="normal" fill="#f23645" textLength="57.07" lengthAdjust="spacingAndGlyphs" xml:space="preserve" stroke="#f23645" stroke-width="0.4">1.17003</text>
<text x="504.64" y="23.90" font-size="15.80" font-weight="normal" fill="#b2b5be" textLength="12.25" lengthAdjust="spacingAndGlyphs" xml:space="preserve" stroke="#b2b5be" stroke-width="0.4">H</text>
<text x="517.62" y="23.90" font-size="15.80" font-weight="normal" fill="#f23645" textLength="57.86" lengthAdjust="spacingAndGlyphs" xml:space="preserve" stroke="#f23645" stroke-width="0.4">1.17017</text>
<text x="581.42" y="23.90" font-size="15.80" font-weight="normal" fill="#b2b5be" textLength="9.61" lengthAdjust="spacingAndGlyphs" xml:space="preserve" stroke="#b2b5be" stroke-width="0.4">L</text>
<text x="591.53" y="23.90" font-size="15.80" font-weight="normal" fill="#f23645" textLength="56.17" lengthAdjust="spacingAndGlyphs" xml:space="preserve" stroke="#f23645" stroke-width="0.4">1.16911</text>
<text x="655.69" y="23.90" font-size="15.80" font-weight="normal" fill="#b2b5be" textLength="10.32" lengthAdjust="spacingAndGlyphs" xml:space="preserve" stroke="#b2b5be" stroke-width="0.4">C</text>
<text x="667.03" y="23.90" font-size="15.80" font-weight="normal" fill="#f23645" textLength="57.32" lengthAdjust="spacingAndGlyphs" xml:space="preserve" stroke="#f23645" stroke-width="0.4">1.16924</text>
<text x="732.23" y="23.90" font-size="15.80" font-weight="normal" fill="#f23645" textLength="131.62" lengthAdjust="spacingAndGlyphs" xml:space="preserve" stroke="#f23645" stroke-width="0.4">−0.00080 (−0.07%)</text>
<path d="M380,7 h14 v22 h-14 a11,11 0 0 1 0,-22 z" fill="#19303a"/>
<path d="M394,7 h14 a11,11 0 0 1 0,22 h-14 z" fill="#581a40"/>
<circle cx="382" cy="18" r="5" fill="#089981"/>
<path d="M400.3,17.0 C402.5,14.200000000000001 405,15.600000000000001 406,16.2 C407.5,17.2 409.5,16.6 410.8,14.600000000000001" fill="none" stroke="#e8246e" stroke-width="1.7" stroke-linecap="round"/>
<path d="M400.3,21.8 C402.5,19.0 405,20.400000000000002 406,21.0 C407.5,22.0 409.5,21.400000000000002 410.8,19.400000000000002" fill="none" stroke="#e8246e" stroke-width="1.7" stroke-linecap="round"/>
<defs><clipPath id="usc"><circle cx="22.8" cy="13.8" r="7.2"/></clipPath><mask id="usm"><rect x="0" y="0" width="40" height="40" fill="#fff"/><circle cx="15" cy="22" r="8.8" fill="#000"/></mask></defs>
<g clip-path="url(#usc)" mask="url(#usm)"><rect x="14" y="5" width="18" height="18" fill="#ffffff"/><rect x="14" y="6.6" width="18" height="2.5" fill="#e8383d"/><rect x="14" y="12.2" width="18" height="2.6" fill="#e8383d"/><rect x="14" y="18.0" width="18" height="2.6" fill="#e8383d"/><rect x="14" y="5" width="10.1" height="10.9" fill="#2a7de1"/><circle cx="19.5" cy="9" r="0.7" fill="#fff"/><circle cx="19.5" cy="11.6" r="0.7" fill="#fff"/><circle cx="22" cy="9" r="0.6" fill="#dfe8f5"/><circle cx="22" cy="11.6" r="0.6" fill="#dfe8f5"/><circle cx="17.5" cy="10.4" r="0.6" fill="#dfe8f5"/></g>
<circle cx="15" cy="22" r="7.2" fill="#1e6ad6"/>
<circle cx="15.00" cy="17.50" r="0.75" fill="#e5c432"/>
<circle cx="18.18" cy="18.82" r="0.75" fill="#e5c432"/>
<circle cx="19.50" cy="22.00" r="0.75" fill="#e5c432"/>
<circle cx="18.18" cy="25.18" r="0.75" fill="#e5c432"/>
<circle cx="15.00" cy="26.50" r="0.75" fill="#e5c432"/>
<circle cx="11.82" cy="25.18" r="0.75" fill="#e5c432"/>
<circle cx="10.50" cy="22.00" r="0.75" fill="#e5c432"/>
<circle cx="11.82" cy="18.82" r="0.75" fill="#e5c432"/>
<rect x="6.5" y="67.5" width="35" height="24.5" rx="3.5" fill="#151923" fill-opacity="0.72" stroke="#4b4944" stroke-width="1.1"/>
<polyline points="19,82 23.5,77.5 28,82" fill="none" stroke="#e8e8ea" stroke-width="1.5"/>
<g transform="translate(11.1,651.1) scale(1.03)" fill="#e0e0e0" stroke="#0e0e0e" stroke-width="4.5" paint-order="stroke" stroke-linejoin="round"><path d="M14 18H7V7H0V0h14z"/><path d="M20 18h-8l7.5-18h8z" transform="translate(8,0)"/><circle cx="20" cy="4" r="4"/></g>
<text x="57.54" y="669.50" font-size="27.39" font-weight="bold" fill="#e0e0e0" textLength="150.11" lengthAdjust="spacingAndGlyphs" xml:space="preserve" stroke="#0e0e0e" stroke-width="5" stroke-linejoin="round" paint-order="stroke">TradingView</text>
</svg></body></html>
